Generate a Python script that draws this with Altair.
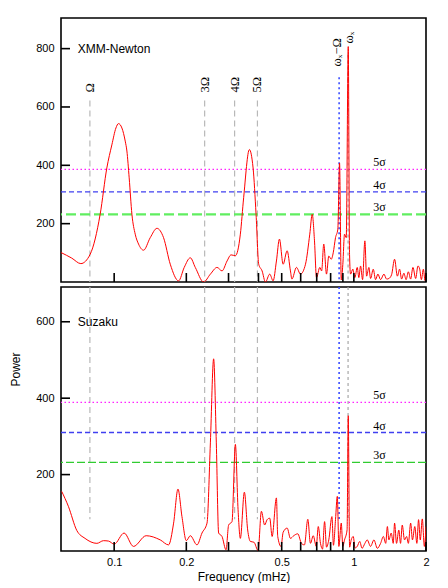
import altair as alt
import pandas as pd

# ---------------- data ----------------
top_freq = [0.060, 0.0665, 0.0726, 0.0794, 0.0874, 0.0932, 0.0978, 0.1017, 0.1042, 0.1077,
            0.1112, 0.1130, 0.1155, 0.1186, 0.1224, 0.1264, 0.1326, 0.1414, 0.1508, 0.1607,
            0.1714, 0.1857, 0.196, 0.2078, 0.218, 0.2362, 0.252, 0.2687, 0.2818, 0.2958,
            0.3074, 0.3204, 0.3361, 0.3469, 0.3665, 0.3798, 0.3909, 0.4009, 0.4142, 0.4276,
            0.4457, 0.4604, 0.4753, 0.4892, 0.507, 0.5268, 0.5438, 0.5515, 0.5763, 0.5988,
            0.6284, 0.6548, 0.6703, 0.6852, 0.6985, 0.721, 0.7338, 0.749, 0.769, 0.786,
            0.8047, 0.8202, 0.8385, 0.8573, 0.8716, 0.886, 0.8995, 0.9143, 0.9294, 0.9476,
            0.9594, 0.9687, 0.9904, 1.0097, 1.0332, 1.049, 1.0666, 1.0874, 1.1117, 1.13,
            1.1553, 1.1743, 1.205, 1.232, 1.2598, 1.2931, 1.335, 1.3697, 1.40, 1.437,
            1.479, 1.519, 1.552, 1.582, 1.617, 1.652, 1.688, 1.726, 1.764, 1.811,
            1.851, 1.882, 1.913, 1.95, 1.981, 2.0]
top_power = [101, 82, 63, 95, 232, 391, 470, 528, 543, 528,
             483, 449, 357, 232, 164, 130, 109, 152, 184, 152,
             61, 4, 50, 83, 50, 0, 27, 50, 38, 72,
             93, 90, 164, 289, 454, 391, 232, 61, 38, 0,
             27, 4, 72, 147, 61, 107, 38, 10, 50, 27,
             61, 164, 232, 141, 15, 50, 38, 130, 27, 89,
             78, 100, 152, 181, 408, 7, 60, 164, 152, 807,
             95, 27, 44, 15, 50, 15, 55, 8, 141, 20,
             50, 12, 44, 8, 27, 8, 27, 10, 12, 25,
             78, 20, 44, 10, 30, 8, 35, 10, 50, 12,
             55, 45, 8, 44, 5, 30]

bot_freq = [0.0604, 0.0644, 0.0698, 0.0756, 0.0847, 0.0902, 0.0947, 0.100, 0.110, 0.1204,
            0.136, 0.1557, 0.1686, 0.177, 0.1846, 0.1918, 0.200, 0.2078, 0.2216, 0.2325,
            0.244, 0.252, 0.260, 0.2668, 0.2728, 0.2818, 0.2929, 0.3003, 0.3102, 0.3204,
            0.3288, 0.3361, 0.3493, 0.3606, 0.370, 0.383, 0.3986, 0.4114, 0.4245, 0.4346,
            0.4457, 0.456, 0.4753, 0.4813, 0.4968, 0.507, 0.527, 0.5438, 0.5612, 0.5835,
            0.6046, 0.622, 0.6426, 0.659, 0.677, 0.697, 0.7105, 0.7258, 0.74, 0.755,
            0.769, 0.786, 0.81, 0.822, 0.8385, 0.853, 0.866, 0.886, 0.8995, 0.9143,
            0.937, 0.9476, 0.96, 0.975, 0.994, 1.012, 1.033, 1.058, 1.082, 1.112,
            1.137, 1.174, 1.213, 1.253, 1.293, 1.328, 1.358, 1.38, 1.40, 1.432,
            1.46, 1.479, 1.507, 1.54, 1.566, 1.592, 1.627, 1.66, 1.688, 1.726,
            1.756, 1.796, 1.832, 1.862, 1.893, 1.93, 1.969, 2.0]
bot_power = [156, 117, 54, 33, 20, 27, 26, 18, 47, 12,
             40, 29, 16, 73, 162, 90, 27, 40, 16, 47,
             73, 283, 503, 283, 47, 38, 3, 68, 77, 279,
             108, 33, 154, 55, 25, 23, 1, 104, 68, 82,
             86, 38, 139, 38, 12, 49, 60, 33, 40, 45,
             20, 16, 83, 20, 40, 12, 64, 20, 5, 77,
             10, 29, 90, 15, 82, 143, 12, 73, 12, 29,
             55, 354, 10, 29, 38, 8, 12, 25, 7, 20,
             29, 12, 29, 7, 20, 38, 20, 64, 29, 47,
             20, 73, 20, 55, 20, 68, 29, 38, 20, 73,
             29, 64, 20, 82, 29, 84, 12, 64]

harm_freq = [0.0792, 0.2385, 0.318, 0.396]
harm_labels = ["Ω", "3Ω", "4Ω", "5Ω"]
beat_freq = 0.868       # omega_x - Omega
spin_freq = 0.946       # omega_x
sig_top = [386, 309, 232]
sig_bot = [389, 310, 232]
sig_labels = ["5σ", "4σ", "3σ"]
sig_label_freq = 1.28

x_tick_vals = [0.1, 0.2, 0.3, 0.4, 0.5, 0.6, 0.7, 0.8, 0.9, 1, 2]
x_label_vals = [0.1, 0.2, 0.5, 1, 2]
top_y_ticks = [200, 400, 600, 800]
bot_y_ticks = [200, 400, 600]

XDOM = [0.06, 2.0]
W = 365
SERIF = "Liberation Serif"
SANS = "Liberation Sans"


def panel(freq, power, ymax, h, name, name_p, yticks, sig, is_bottom,
          vline_top, vline_bottom, beat_top, spin_top, ann):
    xs = alt.Scale(type="log", domain=XDOM, nice=False)
    ys = alt.Scale(domain=[0, ymax], nice=False, zero=False)

    if is_bottom:
        xaxis = alt.Axis(values=x_label_vals, format="~g", tickSize=0, domain=False,
                         grid=False, labelPadding=5, title="Frequency (mHz)",
                         titlePadding=4, labelFlush=False)
        yaxis = alt.Axis(values=yticks, tickSize=0, domain=False, grid=False,
                         labelPadding=7, title="Power", titleX=-46, titleY=82,
                         titleAngle=270, titleAlign="center", titleBaseline="middle")
    else:
        xaxis = None
        yaxis = alt.Axis(values=yticks, tickSize=0, domain=False, grid=False,
                         labelPadding=7, title=None)

    def X(field="f"):
        return alt.X(f"{field}:Q", scale=xs, axis=xaxis)

    def Y(field="p"):
        return alt.Y(f"{field}:Q", scale=ys, axis=yaxis)

    layers = []
    dfl = pd.DataFrame({"f": freq, "p": power})

    # harmonic guide lines
    dfh = pd.DataFrame({"f": harm_freq, "p": [vline_top] * 4, "p2": [vline_bottom] * 4})
    layers.append(alt.Chart(dfh).mark_rule(color="#b8b8b8", strokeDash=[6, 4], strokeWidth=1.2)
                  .encode(x=X(), y=Y(), y2="p2:Q"))
    dfs = pd.DataFrame({"f": [spin_freq], "p": [spin_top], "p2": [vline_bottom]})
    layers.append(alt.Chart(dfs).mark_rule(color="#a8a8a8", strokeDash=[3, 3], strokeWidth=1.2)
                  .encode(x=X(), y=Y(), y2="p2:Q"))
    dfb = pd.DataFrame({"f": [beat_freq], "p": [beat_top], "p2": [vline_bottom]})
    layers.append(alt.Chart(dfb).mark_rule(color="#3a4dff", strokeDash=[2, 3], strokeWidth=1.6)
                  .encode(x=X(), y=Y(), y2="p2:Q"))

    # significance levels
    styles = [
        dict(color="#ff22ff", strokeDash=[1.5, 2.5], strokeWidth=1.4),
        dict(color="#4040f0", strokeDash=[5, 3], strokeWidth=1.4),
        (dict(color="#60ee60", strokeDash=[10, 4], strokeWidth=2.2) if not is_bottom
         else dict(color="#30cc30", strokeDash=[8, 3], strokeWidth=1.1)),
    ]
    for lvl, st in zip(sig, styles):
        layers.append(alt.Chart(pd.DataFrame({"p": [lvl]})).mark_rule(**st)
                      .encode(y=Y()))
    dfsl = pd.DataFrame({"f": [sig_label_freq] * 3, "p": sig, "t": sig_labels})
    layers.append(alt.Chart(dfsl).mark_text(font=SERIF, fontSize=12, align="center",
                                           baseline="alphabetic", dy=-3, color="black")
                  .encode(x=X(), y=Y(), text="t:N"))

    # periodogram
    layers.append(alt.Chart(dfl).mark_line(color="#ff0000", strokeWidth=1,
                                           interpolate="monotone", clip=True)
                  .encode(x=X(), y=Y()))

    # inward ticks
    layers.append(alt.Chart(pd.DataFrame({"f": x_tick_vals})).mark_rule(color="black", strokeWidth=1.6)
                  .encode(x=X(), y=alt.value(h - 9), y2=alt.value(h)))
    layers.append(alt.Chart(pd.DataFrame({"p": yticks})).mark_rule(color="black", strokeWidth=1.6)
                  .encode(y=Y(), x=alt.value(0), x2=alt.value(9)))

    # panel name
    layers.append(alt.Chart(pd.DataFrame({"f": [0.0705], "p": [name_p], "t": [name]}))
                  .mark_text(font=SANS, fontSize=12, align="left", baseline="middle", color="black")
                  .encode(x=X(), y=Y(), text="t:N"))

    # frequency annotations
    if ann is not None:
        layers.append(alt.Chart(ann).mark_text(font=SERIF, fontSize=12.5, angle=270, align="left",
                                               baseline="middle", color="black")
                      .encode(x=X(), y=Y(), text="t:N"))

    return alt.layer(*layers).properties(width=W, height=h)


ann_top = pd.DataFrame({
    "f": harm_freq + [0.852, 0.958],
    "p": [650, 650, 650, 650, 739, 818],
    "t": harm_labels + ["ωₓ−Ω", "ωₓ"],
})

top = panel(top_freq, top_power, 905, 264, "XMM-Newton", 800, top_y_ticks, sig_top, False,
            622, 0, 702, 780, ann_top)
bottom = panel(bot_freq, bot_power, 691, 264, "Suzaku", 600, bot_y_ticks, sig_bot, True,
               691, 83, 691, 691, None)

chart = (alt.vconcat(top, bottom, spacing=1)
         .properties(padding={"left": 0, "top": 9, "right": 5, "bottom": 0})
         .configure_view(stroke="black", strokeWidth=1.6)
         .configure_axis(labelFont=SANS, labelFontSize=11, labelColor="black",
                         titleFont=SANS, titleFontSize=12, titleFontWeight="normal",
                         titleColor="black"))

chart.save("out.html", embed_options={"renderer": "svg", "actions": False})
